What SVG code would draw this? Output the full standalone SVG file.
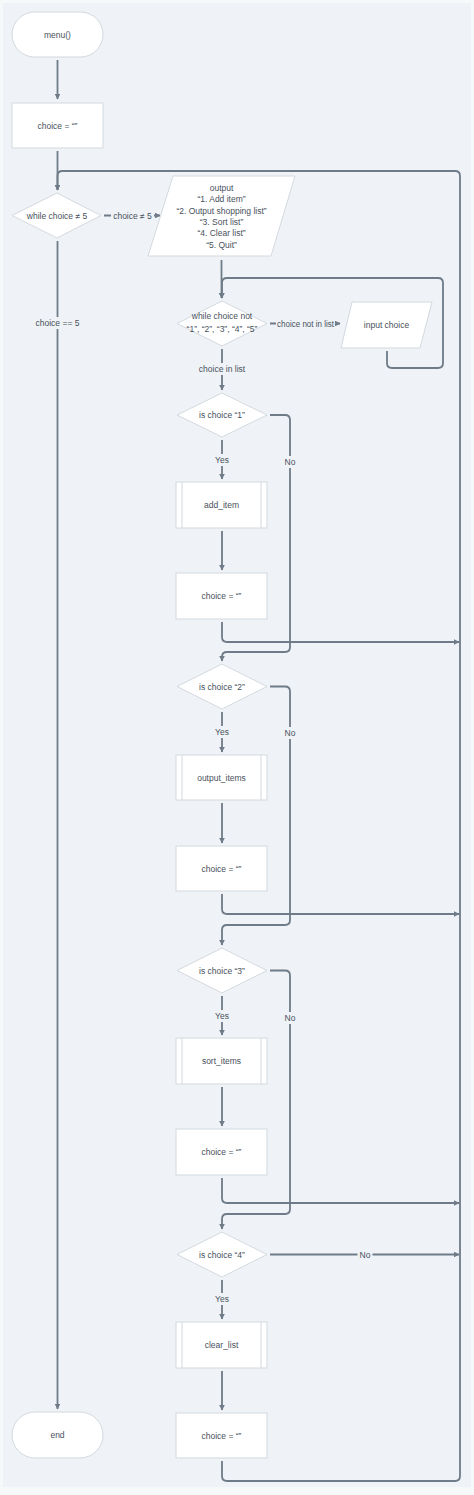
<svg xmlns="http://www.w3.org/2000/svg" width="474" height="1495" viewBox="0 0 474 1495">
<defs>
<marker id="ah" viewBox="0 0 10 10" refX="9" refY="5" markerWidth="3.3" markerHeight="3.3" orient="auto" markerUnits="strokeWidth">
<path d="M0,0 L10,5 L0,10 z" fill="#6f7b88"/>
</marker>
<style>
.n{fill:#ffffff;stroke:#d3d9df;stroke-width:1}
.s{fill:none;stroke:#d3d9df;stroke-width:1}
.c{fill:none;stroke:#6f7b88;stroke-width:1.8}
.a{marker-end:url(#ah)}
.t{font-family:"Liberation Sans",Arial,sans-serif;font-size:8.5px;fill:#48515c;text-anchor:middle}
.lb{fill:#eff3f7}
</style>
</defs>
<rect x="0" y="0" width="474" height="1495" fill="#f7f8fa"/>
<rect x="3" y="3" width="468" height="1484" fill="#eff3f7"/>

<g id="connectors">
<path class="c a" d="M57.5,60 V99"/>
<path class="c a" d="M57.5,151 V190"/>
<path class="c a" d="M222,1461 V1476 Q222,1481 227,1481 H455 Q460,1481 460,1476 V176 Q460,171 455,171 H62.5 Q57.5,171 57.5,176 V190"/>
<path class="c a" d="M104,215.5 H160"/>
<path class="c a" d="M57.5,241 V1409"/>
<path class="c a" d="M221.5,260 V298"/>
<path class="c a" d="M387,351 V363 Q387,368 392,368 H438 Q443,368 443,363 V283 Q443,278 438,278 H227 Q222,278 222,283 V298"/>
<path class="c a" d="M270,323.5 H340"/>
<path class="c a" d="M222,349 V390"/>

<!-- section 1 -->
<path class="c a" d="M222,440 V479"/>
<path class="c a" d="M222,531 V570"/>
<path class="c a" d="M222,622 V637 Q222,642 227,642 H459"/>
<path class="c a" d="M270,415 H285 Q290,415 290,420 V647 Q290,652 285,652 H227 Q222,652 222,657 V661"/>
<!-- section 2 -->
<path class="c a" d="M222,712 V752"/>
<path class="c a" d="M222,803 V843"/>
<path class="c a" d="M222,894 V909 Q222,914 227,914 H459"/>
<path class="c a" d="M270,686.5 H285 Q290,686.5 290,691.5 V920 Q290,925 285,925 H227 Q222,925 222,930 V945"/>
<!-- section 3 -->
<path class="c a" d="M222,996 V1035"/>
<path class="c a" d="M222,1087 V1126"/>
<path class="c a" d="M222,1178 V1198 Q222,1203 227,1203 H459"/>
<path class="c a" d="M270,970.5 H285 Q290,970.5 290,975.5 V1209 Q290,1214 285,1214 H227 Q222,1214 222,1219 V1229"/>
<!-- section 4 -->
<path class="c a" d="M222,1280 V1319"/>
<path class="c a" d="M222,1371 V1410"/>
<path class="c a" d="M270,1254.5 H459"/>

<!-- labels -->
<rect class="lb" x="111" y="209.5" width="43" height="12"/>
<text class="t" x="132.5" y="218.5">choice ≠ 5</text>
<rect class="lb" x="33.5" y="317" width="48" height="12"/>
<text class="t" x="57.5" y="326">choice == 5</text>
<rect class="lb" x="276" y="317.5" width="59" height="12"/>
<text class="t" x="305.5" y="326.5" textLength="57" lengthAdjust="spacingAndGlyphs">choice not in list</text>
<rect class="lb" x="197" y="363" width="50" height="12"/>
<text class="t" x="222" y="372">choice in list</text>

<rect class="lb" x="212.5" y="454" width="19" height="12"/>
<text class="t" x="222" y="463">Yes</text>
<rect class="lb" x="282.5" y="456" width="15" height="12"/>
<text class="t" x="290" y="465">No</text>

<rect class="lb" x="212.5" y="726" width="19" height="12"/>
<text class="t" x="222" y="735">Yes</text>
<rect class="lb" x="282.5" y="727" width="15" height="12"/>
<text class="t" x="290" y="736">No</text>

<rect class="lb" x="212.5" y="1010" width="19" height="12"/>
<text class="t" x="222" y="1019">Yes</text>
<rect class="lb" x="282.5" y="1012" width="15" height="12"/>
<text class="t" x="290" y="1021">No</text>

<rect class="lb" x="212.5" y="1293" width="19" height="12"/>
<text class="t" x="222" y="1302">Yes</text>
<rect class="lb" x="357.5" y="1248.5" width="15" height="12"/>
<text class="t" x="365" y="1257.5">No</text>
</g>

<g id="menu">
<rect class="n" x="12" y="12" width="91" height="45" rx="22.5"/>
<text class="t" x="57.5" y="37.5">menu()</text>
</g>
<g id="init">
<rect class="n" x="12" y="103" width="91" height="45"/>
<text class="t" x="57.5" y="128.5">choice = “”</text>
</g>
<g id="while5">
<path class="n" d="M57,193 L101,215.5 L57,238 L12,215.5 z"/>
<text class="t" x="57" y="218.5">while choice ≠ 5</text>
</g>
<g id="output">
<path class="n" d="M173,176 L295,176 L271,256 L148,256 z"/>
<text class="t" x="221.5" y="191">output</text>
<text class="t" x="221.5" y="202.3">“1. Add item”</text>
<text class="t" x="221.5" y="213.6">“2. Output shopping list”</text>
<text class="t" x="221.5" y="224.9">“3. Sort list”</text>
<text class="t" x="221.5" y="236.2">“4. Clear list”</text>
<text class="t" x="221.5" y="247.5">“5. Quit”</text>
</g>
<g id="whilenot">
<path class="n" d="M222,301 L267,323.5 L222,346 L177,323.5 z"/>
<text class="t" x="222" y="319">while choice not</text>
<text class="t" x="222" y="332">“1”, “2”, “3”, “4”, “5”</text>
</g>
<g id="input">
<path class="n" d="M352,302 L432,302 L420,348 L341,348 z"/>
<text class="t" x="386.5" y="328">input choice</text>
</g>

<g id="is1">
<path class="n" d="M222,393 L267,415 L222,437 L177,415 z"/>
<text class="t" x="222" y="418">is choice “1”</text>
</g>
<g id="add_item">
<rect class="n" x="176" y="482" width="91" height="46"/>
<path class="s" d="M182,482 V528 M261,482 V528"/>
<text class="t" x="221.5" y="508">add_item</text>
</g>
<g id="reset1">
<rect class="n" x="176" y="573" width="91" height="46"/>
<text class="t" x="221.5" y="599">choice = “”</text>
</g>

<g id="is2">
<path class="n" d="M222,664 L267,686.5 L222,709 L177,686.5 z"/>
<text class="t" x="222" y="689.5">is choice “2”</text>
</g>
<g id="output_items">
<rect class="n" x="176" y="755" width="91" height="45"/>
<path class="s" d="M182,755 V800 M261,755 V800"/>
<text class="t" x="221.5" y="780.5">output_items</text>
</g>
<g id="reset2">
<rect class="n" x="176" y="846" width="91" height="45"/>
<text class="t" x="221.5" y="871.5">choice = “”</text>
</g>

<g id="is3">
<path class="n" d="M222,948 L267,970.5 L222,993 L177,970.5 z"/>
<text class="t" x="222" y="973.5">is choice “3”</text>
</g>
<g id="sort_items">
<rect class="n" x="176" y="1038" width="91" height="46"/>
<path class="s" d="M182,1038 V1084 M261,1038 V1084"/>
<text class="t" x="221.5" y="1064">sort_items</text>
</g>
<g id="reset3">
<rect class="n" x="176" y="1129" width="91" height="46"/>
<text class="t" x="221.5" y="1155">choice = “”</text>
</g>

<g id="is4">
<path class="n" d="M222,1232 L267,1254.5 L222,1277 L177,1254.5 z"/>
<text class="t" x="222" y="1257.5">is choice “4”</text>
</g>
<g id="clear_list">
<rect class="n" x="176" y="1322" width="91" height="46"/>
<path class="s" d="M182,1322 V1368 M261,1322 V1368"/>
<text class="t" x="221.5" y="1348">clear_list</text>
</g>
<g id="reset4">
<rect class="n" x="176" y="1413" width="91" height="45"/>
<text class="t" x="221.5" y="1438.5">choice = “”</text>
</g>

<g id="end">
<rect class="n" x="12" y="1412" width="91" height="46" rx="23"/>
<text class="t" x="57.5" y="1438">end</text>
</g>
</svg>
